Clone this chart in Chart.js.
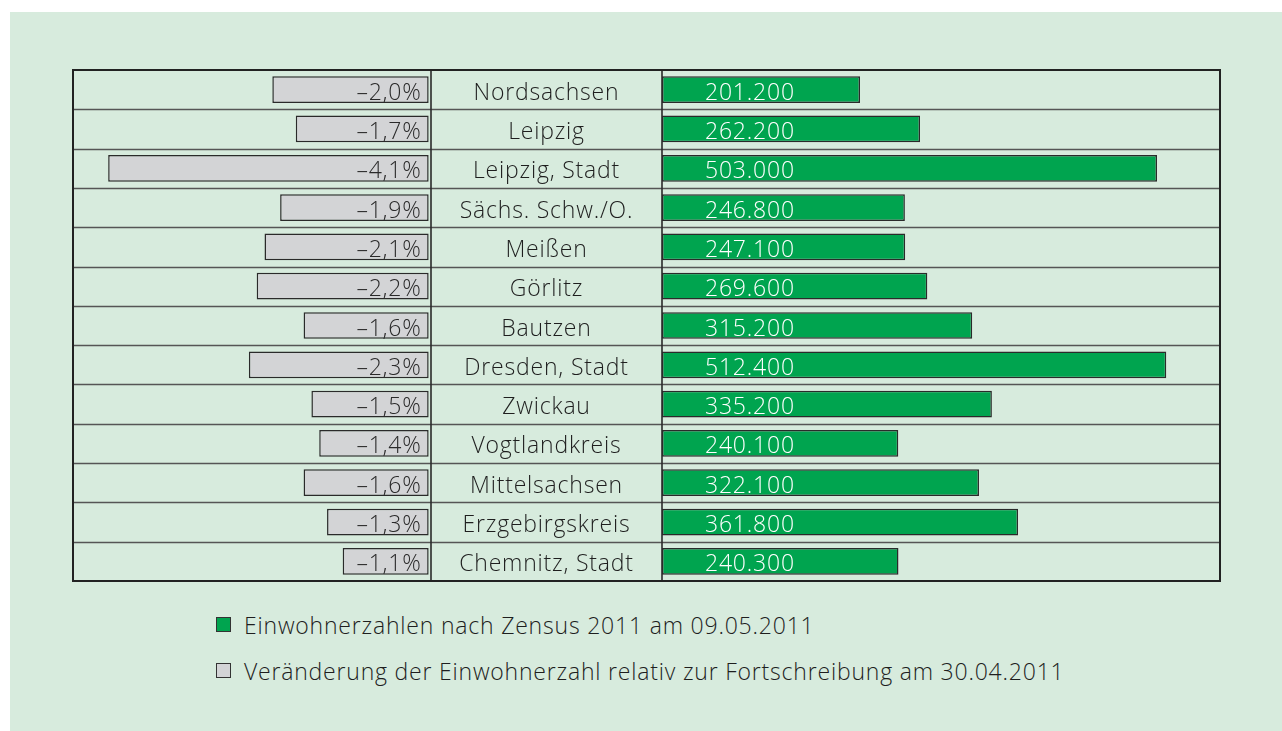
<!DOCTYPE html>
<html lang="de">
<head>
<meta charset="utf-8">
<script src="https://cdn.jsdelivr.net/npm/chart.js@4.4.1/dist/chart.umd.min.js"></script>
<style>
  html, body { margin: 0; padding: 0; background: #ffffff; }
  body { width: 1282px; height: 731px; position: relative; overflow: hidden; font-family: "Open Sans", sans-serif; }
  #panel { position: absolute; left: 10px; top: 12px; width: 1272px; height: 719px; background: #d7ebdd; }
  #wrap { position: absolute; left: 63px; top: 60px; width: 1167px; height: 531px; }
  .leg { position: absolute; left: 216px; font-size: 23px; letter-spacing: 0.8px; font-weight: 300; color: #1e1e1e; white-space: nowrap; line-height: 28px; }
  .leg .box { position: absolute; left: 0; top: 6px; width: 13px; height: 13px; border: 1px solid #333; }
  .leg .txt { position: absolute; left: 28px; top: 0; }
</style>
</head>
<body>
<div id="panel"></div>
<div id="wrap"><canvas id="c"></canvas></div>
<div class="leg" id="leg1" style="top:611px;"></div>
<div class="leg" id="leg2" style="top:657px;"></div>
<script>
// ---- data ----
const regions = ["Nordsachsen", "Leipzig", "Leipzig, Stadt", "Sächs. Schw./O.", "Meißen", "Görlitz", "Bautzen", "Dresden, Stadt", "Zwickau", "Vogtlandkreis", "Mittelsachsen", "Erzgebirgskreis", "Chemnitz, Stadt"];
const population = [201200, 262200, 503000, 246800, 247100, 269600, 315200, 512400, 335200, 240100, 322100, 361800, 240300];
const changePct = [-2.0, -1.7, -4.1, -1.9, -2.1, -2.2, -1.6, -2.3, -1.5, -1.4, -1.6, -1.3, -1.1];
const seriesNames = ["Einwohnerzahlen nach Zensus 2011 am 09.05.2011", "Veränderung der Einwohnerzahl relativ zur Fortschreibung am 30.04.2011"];
const colors = { green: "#00a44f", gray: "#d3d4d6", border: "#2a2a2a" };

const fmtPop = v => String(v).replace(/\B(?=(\d{3})+(?!\d))/g, ".");
const fmtPct = v => (v < 0 ? "\u2013" : "") + Math.abs(v).toFixed(1).replace(".", ",") + "%";

const FONT = '300 23px "Open Sans", sans-serif';

const tablePlugin = {
  id: "table",
  beforeDatasetsDraw(chart) {
    const ctx = chart.ctx;
    const y = chart.scales.y, xm = chart.scales.xMid;
    const area = chart.chartArea;
    const n = regions.length;
    const band = (area.bottom - area.top) / n;
    ctx.save();
    ctx.strokeStyle = "#555555";
    ctx.lineWidth = 1.6;
    for (let i = 1; i < n; i++) {
      const yy = Math.round(y.getPixelForValue(i) - band / 2) + 0.5;
      ctx.beginPath(); ctx.moveTo(area.left, yy); ctx.lineTo(area.right, yy); ctx.stroke();
    }
    ctx.strokeStyle = "#2a2a2a";
    ctx.lineWidth = 1.6;
    [xm.left, xm.right].forEach(xx => {
      ctx.beginPath(); ctx.moveTo(xx, area.top); ctx.lineTo(xx, area.bottom); ctx.stroke();
    });
    ctx.lineWidth = 2;
    ctx.strokeStyle = "#222222";
    ctx.strokeRect(area.left, area.top, area.right - area.left, area.bottom - area.top);
    ctx.restore();
  },
  afterDatasetsDraw(chart) {
    const ctx = chart.ctx;
    const y = chart.scales.y, xl = chart.scales.xPct, xm = chart.scales.xMid, xr = chart.scales.xPop;
    ctx.save();
    ctx.font = FONT;
    if ("letterSpacing" in ctx) ctx.letterSpacing = "0.8px";
    ctx.textBaseline = "alphabetic";
    const midX = (xm.left + xm.right) / 2;
    regions.forEach((name, i) => {
      const cy = y.getPixelForValue(i);
      const base = cy + 10;
      ctx.fillStyle = "#1e1e1e";
      ctx.textAlign = "center";
      ctx.fillText(name, midX, base);
      ctx.textAlign = "right";
      ctx.fillStyle = "#2a2a2a";
      ctx.fillText(fmtPct(changePct[i]), xl.getPixelForValue(0) - 7, base);
      ctx.textAlign = "left";
      ctx.fillStyle = "#ffffff";
      ctx.fillText(fmtPop(population[i]), xr.getPixelForValue(0) + 43, base);
    });
    ctx.restore();
  }
};

new Chart(document.getElementById("c"), {
  type: "bar",
  data: {
    labels: regions,
    datasets: [
      {
        label: seriesNames[0],
        data: population,
        xAxisID: "xPop",
        backgroundColor: colors.green,
        borderColor: colors.border,
        borderWidth: 1.5,
        borderSkipped: false,
        grouped: false,
        categoryPercentage: 1,
        barPercentage: 0.68
      },
      {
        label: seriesNames[1],
        data: changePct,
        xAxisID: "xPct",
        backgroundColor: colors.gray,
        borderColor: colors.border,
        borderWidth: 1.5,
        borderSkipped: false,
        grouped: false,
        categoryPercentage: 1,
        barPercentage: 0.68
      }
    ]
  },
  options: {
    indexAxis: "y",
    responsive: true,
    maintainAspectRatio: false,
    animation: false,
    layout: { padding: { left: 10, right: 10, top: 10, bottom: 10 } },
    plugins: { legend: { display: false }, tooltip: { enabled: false } },
    scales: {
      xPct: { type: "linear", position: "bottom", stack: "cols", stackWeight: 358, weight: 1, min: -4.55, max: 0.03, display: false },
      xMid: { type: "linear", position: "bottom", stack: "cols", stackWeight: 231, weight: 2, min: 0, max: 1, display: false },
      xPop: { type: "linear", position: "bottom", stack: "cols", stackWeight: 558, weight: 3, min: 0, max: 567000, display: false },
      y: { type: "category", display: false }
    }
  },
  plugins: [tablePlugin]
});

// legend (HTML text)
[["leg1", colors.green, seriesNames[0]], ["leg2", colors.gray, seriesNames[1]]].forEach(([id, col, txt]) => {
  const el = document.getElementById(id);
  const b = document.createElement("span"); b.className = "box"; b.style.background = col;
  const t = document.createElement("span"); t.className = "txt"; t.textContent = txt;
  el.appendChild(b); el.appendChild(t);
});
</script>
</body>
</html>
